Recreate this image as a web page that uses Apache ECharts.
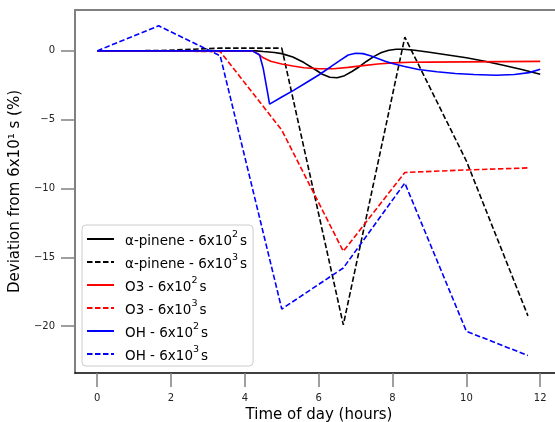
<!DOCTYPE html>
<html>
<head>
<meta charset="utf-8">
<script src="https://cdn.jsdelivr.net/npm/echarts@6/dist/echarts.min.js"></script>
<style>html,body{margin:0;padding:0;background:#fff;}#c{width:555px;height:422px;}</style>
</head>
<body>
<div id="c"></div>
<script>
// Category / series labels
const seriesNames = ['α-pinene - 6x10²s', 'α-pinene - 6x10³s', 'O3 - 6x10²s', 'O3 - 6x10³s', 'OH - 6x10²s', 'OH - 6x10³s'];

// Coarse time step (6x10^3 s) hours
const hoursCoarse = [0, 1.667, 3.333, 5, 6.667, 8.333, 10, 11.667];
const pineneCoarse = [0, 0.02, 0.2, 0.2, -19.9, 1.0, -8.0, -19.25];
const o3Coarse = [0, 0, -0.05, -5.75, -14.56, -8.83, -8.65, -8.5];
const ohCoarse = [0, 1.82, -0.36, -18.75, -15.77, -9.6, -20.37, -22.13];

// Fine time step (6x10^2 s) series
const pineneFineH = [0, 1, 2, 3, 3.5, 4, 4.3, 4.5, 4.8, 5.0, 5.3, 5.6, 5.9, 6.1, 6.3, 6.5, 6.7, 6.9, 7.1, 7.3, 7.5, 7.7, 7.9, 8.1, 8.3, 8.6, 9, 9.5, 10, 10.5, 11, 11.5, 12];
const pineneFine = [0, 0, 0, 0, 0, 0, 0, -0.05, -0.12, -0.2, -0.45, -0.85, -1.35, -1.7, -1.92, -1.95, -1.8, -1.5, -1.15, -0.75, -0.4, -0.12, 0.05, 0.12, 0.12, 0.05, -0.1, -0.3, -0.5, -0.75, -1.05, -1.35, -1.7];

const o3FineH = [0, 1, 2, 3, 4, 4.2, 4.35, 4.5, 4.7, 5.0, 5.3, 5.6, 6.0, 6.4, 6.8, 7.2, 7.6, 8.0, 8.5, 9, 10, 11, 12];
const o3Fine = [0, 0, 0, 0, 0, 0, -0.2, -0.5, -0.75, -0.95, -1.1, -1.22, -1.3, -1.3, -1.2, -1.07, -0.95, -0.87, -0.83, -0.82, -0.8, -0.78, -0.76];

const ohFineH = [0, 1, 2, 3, 4, 4.2, 4.4, 4.5, 4.6, 4.67, 5.0, 5.33, 5.67, 6.0, 6.33, 6.6, 6.8, 7.0, 7.2, 7.4, 7.6, 7.8, 8.0, 8.3, 8.7, 9.2, 9.7, 10.2, 10.8, 11.3, 11.7, 12];
const ohFine = [0, 0, 0, 0, 0, 0, -0.3, -1.3, -2.8, -3.87, -3.35, -2.85, -2.3, -1.75, -1.15, -0.65, -0.3, -0.17, -0.2, -0.35, -0.55, -0.75, -0.92, -1.12, -1.35, -1.52, -1.64, -1.72, -1.77, -1.72, -1.58, -1.33];

// Tick labels
const xTicks = [0, 2, 4, 6, 8, 10, 12];
const yTicks = [0, -5, -10, -15, -20];

const zip = (xs, ys) => xs.map((x, i) => [x, ys[i]]);
const dash = [5.5, 2.5];
const FONT = 'DejaVu Sans';
const supMap = { '¹': '1', '²': '2', '³': '3' };
const toRich = s => '{n|' + s.replace(/[¹²³]/g, c => '}{sup|' + supMap[c] + '}{n|') + '}';

function mk(name, data, color, dashed) {
  return {
    name: name, type: 'line', data: data, symbol: 'none', smooth: false,
    lineStyle: { color: color, width: 1.6, type: dashed ? dash : 'solid' },
    itemStyle: { color: color },
    emphasis: { disabled: true }
  };
}

const chart = echarts.init(document.getElementById('c'), null, { renderer: 'canvas' });
chart.setOption({
  animation: false,
  backgroundColor: '#fff',
  grid: { left: 75, right: 0, top: 10, bottom: 49, outerBoundsMode: 'none', containLabel: false },
  legend: {
    orient: 'vertical', left: 82, top: 225,
    padding: [5, 6, 3, 4],
    itemWidth: 27, itemHeight: 14, itemGap: 5,
    itemStyle: { opacity: 0 },
    backgroundColor: 'rgba(255,255,255,0.85)',
    borderColor: '#cccccc', borderWidth: 1, borderRadius: 4,
    formatter: name => toRich(name),
    textStyle: {
      fontFamily: FONT, fontSize: 13, color: '#000', padding: [0, 0, 0, 6],
      rich: {
        n: { fontFamily: FONT, fontSize: 13.5, color: '#000', lineHeight: 18, verticalAlign: 'bottom' },
        sup: { fontFamily: FONT, fontSize: 9.5, color: '#000', lineHeight: 18, verticalAlign: 'top', padding: [0, 2, 0, 0] }
      }
    },
    data: seriesNames
  },
  xAxis: [{
    type: 'value', min: -0.6, max: 12.4,
    name: 'Time of day (hours)', nameLocation: 'middle', nameGap: 32,
    nameTextStyle: { fontFamily: FONT, fontSize: 15, color: '#000', padding: [0, 0, 0, 8] },
    axisLine: { show: true, onZero: false, lineStyle: { color: '#000', width: 1.5 } },
    axisTick: { show: true, length: 14, lineStyle: { color: '#808080', width: 1.5 }, customValues: xTicks },
    axisLabel: { fontFamily: FONT, fontSize: 10, color: '#222', margin: 20, customValues: xTicks },
    splitLine: { show: false }
  }, {
    type: 'value', position: 'top', min: -0.6, max: 12.4,
    axisLine: { show: true, onZero: false, lineStyle: { color: '#808080', width: 2 } },
    axisTick: { show: false }, axisLabel: { show: false }, splitLine: { show: false }
  }],
  yAxis: {
    type: 'value', min: -23.4, max: 2.97,
    name: 'Deviation from 6x10¹ s (%)', nameLocation: 'middle', nameGap: 46,
    nameTextStyle: { fontFamily: FONT, fontSize: 15, color: '#000' },
    axisLine: { show: true, onZero: false, lineStyle: { color: '#808080', width: 2 } },
    axisTick: { show: true, length: 14, lineStyle: { color: '#808080', width: 1.5 }, customValues: yTicks },
    axisLabel: { fontFamily: FONT, fontSize: 10, color: '#222', margin: 20, customValues: yTicks,
      formatter: v => (v < 0 ? '\u2212' + Math.abs(v) : String(v)) },
    splitLine: { show: false }
  },
  series: [
    mk(seriesNames[0], zip(pineneFineH, pineneFine), '#000000', false),
    mk(seriesNames[1], zip(hoursCoarse, pineneCoarse), '#000000', true),
    mk(seriesNames[2], zip(o3FineH, o3Fine), '#ff0000', false),
    mk(seriesNames[3], zip(hoursCoarse, o3Coarse), '#ff0000', true),
    mk(seriesNames[4], zip(ohFineH, ohFine), '#0000ff', false),
    mk(seriesNames[5], zip(hoursCoarse, ohCoarse), '#0000ff', true)
  ]
});
</script>
</body>
</html>
